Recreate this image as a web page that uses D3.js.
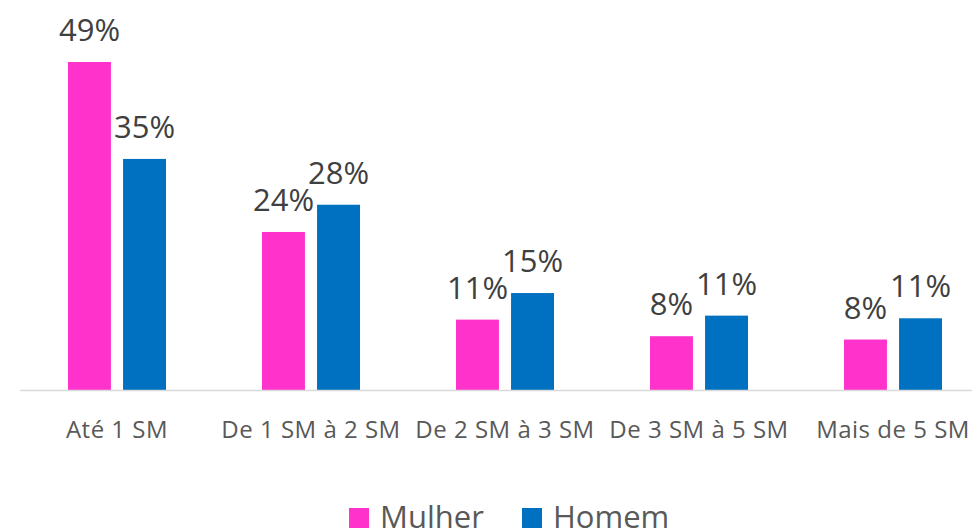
<!DOCTYPE html>
<html>
<head>
<meta charset="utf-8">
<script src="https://cdn.jsdelivr.net/npm/d3@7"></script>
<style>
  body { margin: 0; background: #fff; }
  svg { display: block; font-family: "Open Sans", sans-serif; }
</style>
</head>
<body>
<svg id="chart"></svg>
<script>
// data
const categories = ['Até 1 SM', 'De 1 SM à 2 SM', 'De 2 SM à 3 SM', 'De 3 SM à 5 SM', 'Mais de 5 SM'];
const seriesNames = ['Mulher', 'Homem'];
const mulher = [49.4, 23.8, 10.6, 8.1, 7.6];
const homem = [34.8, 27.9, 14.6, 11.2, 10.8];
const colors = ['#FF33CC', '#0070C0'];

const width = 972;
const height = 530;
const baseY = 390;

const svg = d3.select('#chart')
    .attr('width', width)
    .attr('height', height);

const rows = categories.map((c, i) => ({cat: c, values: [mulher[i], homem[i]]}));

const x0 = d3.scaleBand()
    .domain(categories)
    .range([20, 990])
    .padding(0);

const x1 = d3.scaleBand()
    .domain(seriesNames)
    .range([0, 98])
    .paddingInner(0.22)
    .paddingOuter(0);

const y = d3.scaleLinear()
    .domain([0, 50])
    .range([baseY, baseY - 332]);

const groupOffset = x0.bandwidth() / 2 - 49;

// bars
const groups = svg.selectAll('.grp')
    .data(rows)
    .enter()
    .append('g')
    .attr('class', 'grp')
    .attr('transform', d => 'translate(' + (x0(d.cat) + groupOffset) + ',0)');

groups.selectAll('rect')
    .data(d => d.values.map((v, j) => ({name: seriesNames[j], v: v, j: j})))
    .enter()
    .append('rect')
    .attr('x', d => x1(d.name))
    .attr('y', d => y(d.v))
    .attr('width', x1.bandwidth())
    .attr('height', d => baseY - y(d.v))
    .attr('fill', d => colors[d.j]);

// value labels
groups.selectAll('text')
    .data(d => d.values.map((v, j) => ({name: seriesNames[j], v: v, j: j})))
    .enter()
    .append('text')
    .attr('x', d => x1(d.name) + x1.bandwidth() / 2)
    .attr('y', d => y(d.v) - 21)
    .attr('text-anchor', 'middle')
    .attr('font-size', 31)
    .attr('fill', '#404040')
    .text(d => Math.round(d.v) + '%');

// x axis
const xAxis = svg.append('g')
    .attr('transform', 'translate(0,' + baseY + ')')
    .call(d3.axisBottom(x0).tickSize(0).tickPadding(48));
xAxis.select('.domain')
    .attr('d', 'M20,0.5H972')
    .attr('stroke', '#D9D9D9')
    .attr('stroke-width', 1.5);
xAxis.selectAll('text')
    .attr('font-family', '"Open Sans", sans-serif')
    .attr('font-size', 24)
    .attr('letter-spacing', 0.5)
    .attr('fill', '#595959')
    .attr('dy', 0);

// legend
const legendX = [349, 522];
const legend = svg.append('g');
seriesNames.forEach((name, i) => {
  legend.append('rect')
      .attr('x', legendX[i])
      .attr('y', 508)
      .attr('width', 20)
      .attr('height', 20)
      .attr('fill', colors[i]);
  legend.append('text')
      .attr('x', legendX[i] + 31)
      .attr('y', 528)
      .attr('font-size', 31)
      .attr('fill', '#595959')
      .text(name);
});
</script>
</body>
</html>
